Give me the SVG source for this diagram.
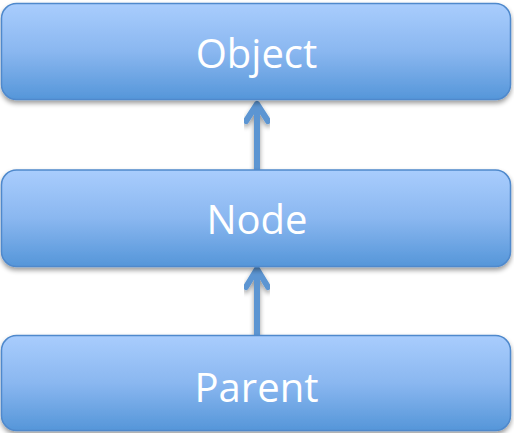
<svg xmlns="http://www.w3.org/2000/svg" width="514" height="433" viewBox="0 0 514 433">
  <defs>
    <linearGradient id="boxFill" x1="0" y1="0" x2="0" y2="1">
      <stop offset="0" stop-color="#a9cdfd"/>
      <stop offset="0.5" stop-color="#8ab7f0"/>
      <stop offset="1" stop-color="#5596d9"/>
    </linearGradient>
    <filter id="shadow" x="-5%" y="-10%" width="110%" height="130%">
      <feGaussianBlur in="SourceAlpha" stdDeviation="2.5"/>
      <feOffset dx="0" dy="3" result="b"/>
      <feComponentTransfer><feFuncA type="linear" slope="0.4"/></feComponentTransfer>
      <feMerge><feMergeNode/><feMergeNode in="SourceGraphic"/></feMerge>
    </filter>
  </defs>
  <style>
    .box { fill: url(#boxFill); stroke: #4f89cc; stroke-width: 1.5; filter: url(#shadow); }
    .label { font-family: "Open Sans", "Liberation Sans", sans-serif; font-size: 40px; fill: #ffffff; text-anchor: middle; }
    .link { fill: none; stroke: #5b95d2; stroke-width: 6; stroke-linecap: round; stroke-linejoin: round; filter: url(#shadow); }
  </style>

  <g id="connectors">
    <path class="link" d="M257 170 V104 M246 121 L257 104 L268 121"/>
    <path class="link" d="M257 336 V269 M246 287 L257 269 L268 287"/>
  </g>

  <g id="object">
    <rect class="box" x="1.5" y="3.5" width="509" height="96" rx="15"/>
    <text class="label" x="256.5" y="68">Object</text>
  </g>

  <g id="node">
    <rect class="box" x="1.5" y="170" width="509" height="96.5" rx="15"/>
    <text class="label" x="257" y="234">Node</text>
  </g>

  <g id="parent">
    <rect class="box" x="1.5" y="335.5" width="509" height="95" rx="15"/>
    <text class="label" x="256.5" y="402">Parent</text>
  </g>
</svg>
